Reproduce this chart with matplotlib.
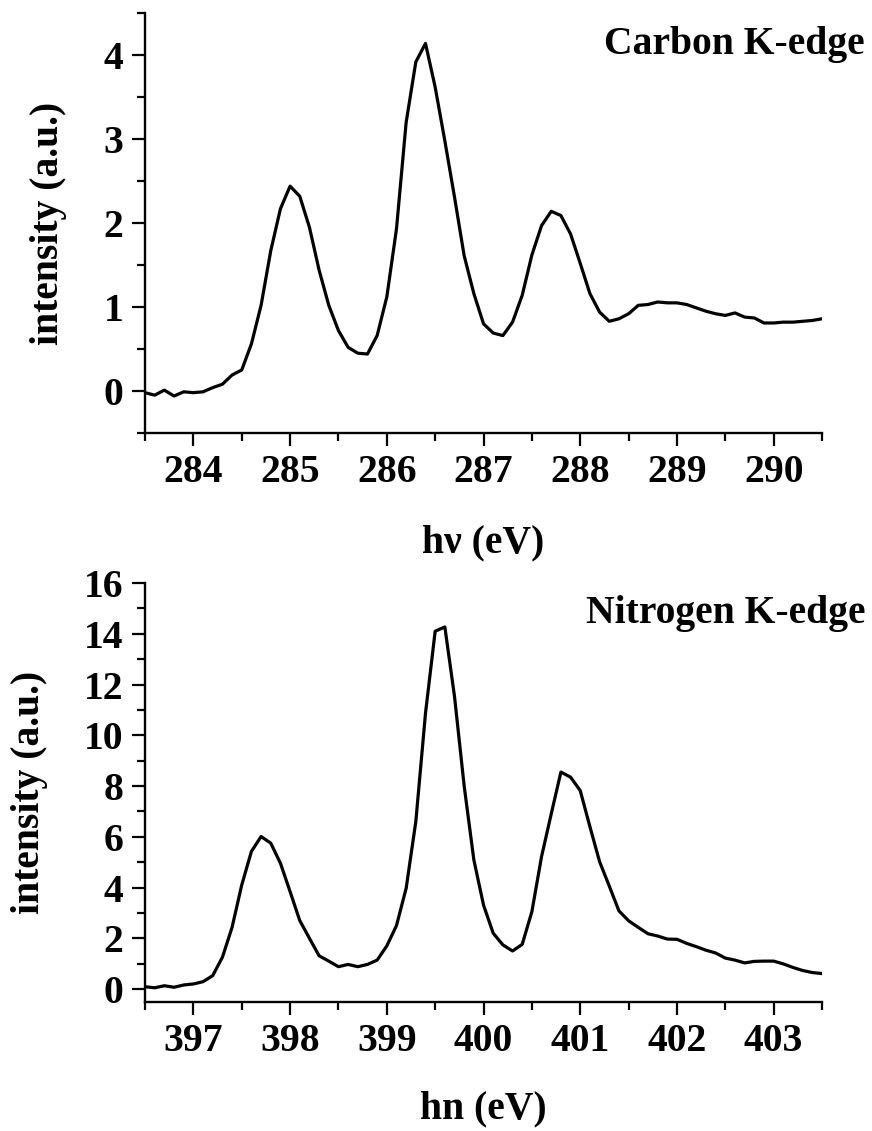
import matplotlib
matplotlib.use('Agg')
import matplotlib.pyplot as plt
from matplotlib.ticker import MultipleLocator

plt.rcParams['font.family'] = ['Liberation Serif', 'DejaVu Serif']
plt.rcParams['font.weight'] = 'bold'

# carbon K-edge spectrum
carbon_ev = [283.5, 283.6, 283.7, 283.8, 283.9, 284.0, 284.1, 284.2, 284.3, 284.4,
             284.5, 284.6, 284.7, 284.8, 284.9, 285.0, 285.1, 285.2, 285.3, 285.4,
             285.5, 285.6, 285.7, 285.8, 285.9, 286.0, 286.1, 286.2, 286.3, 286.4,
             286.5, 286.6, 286.7, 286.8, 286.9, 287.0, 287.1, 287.2, 287.3, 287.4,
             287.5, 287.6, 287.7, 287.8, 287.9, 288.0, 288.1, 288.2, 288.3, 288.4,
             288.5, 288.6, 288.7, 288.8, 288.9, 289.0, 289.1, 289.2, 289.3, 289.4,
             289.5, 289.6, 289.7, 289.8, 289.9, 290.0, 290.1, 290.2, 290.3, 290.4,
             290.5]
carbon_int = [-0.02, -0.05, 0.01, -0.06, -0.01, -0.02, -0.01, 0.04, 0.08, 0.19,
              0.25, 0.56, 1.02, 1.67, 2.17, 2.44, 2.32, 1.95, 1.44, 1.02,
              0.72, 0.52, 0.45, 0.44, 0.66, 1.12, 1.93, 3.20, 3.92, 4.14,
              3.62, 2.98, 2.31, 1.61, 1.16, 0.80, 0.69, 0.66, 0.82, 1.14,
              1.62, 1.97, 2.14, 2.09, 1.87, 1.52, 1.16, 0.94, 0.83, 0.86,
              0.92, 1.02, 1.03, 1.06, 1.05, 1.05, 1.03, 0.99, 0.95, 0.92,
              0.90, 0.93, 0.88, 0.87, 0.81, 0.81, 0.82, 0.82, 0.83, 0.84,
              0.86]

# nitrogen K-edge spectrum
nitrogen_ev = [396.5, 396.6, 396.7, 396.8, 396.9, 397.0, 397.1, 397.2, 397.3, 397.4,
               397.5, 397.6, 397.7, 397.8, 397.9, 398.0, 398.1, 398.2, 398.3, 398.4,
               398.5, 398.6, 398.7, 398.8, 398.9, 399.0, 399.1, 399.2, 399.3, 399.4,
               399.5, 399.6, 399.7, 399.8, 399.9, 400.0, 400.1, 400.2, 400.3, 400.4,
               400.5, 400.6, 400.7, 400.8, 400.9, 401.0, 401.1, 401.2, 401.3, 401.4,
               401.5, 401.6, 401.7, 401.8, 401.9, 402.0, 402.1, 402.2, 402.3, 402.4,
               402.5, 402.6, 402.7, 402.8, 402.9, 403.0, 403.1, 403.2, 403.3, 403.4,
               403.5]
nitrogen_int = [0.09, 0.05, 0.13, 0.07, 0.16, 0.20, 0.29, 0.53, 1.25, 2.43,
                4.10, 5.42, 6.01, 5.75, 4.96, 3.84, 2.70, 2.00, 1.31, 1.10,
                0.88, 0.97, 0.88, 0.97, 1.14, 1.70, 2.50, 3.97, 6.60, 10.87,
                14.10, 14.27, 11.53, 8.00, 5.09, 3.31, 2.20, 1.74, 1.50, 1.76,
                3.05, 5.22, 6.90, 8.55, 8.35, 7.82, 6.40, 5.02, 4.06, 3.08,
                2.69, 2.43, 2.18, 2.09, 1.97, 1.96, 1.80, 1.67, 1.53, 1.42,
                1.22, 1.14, 1.03, 1.09, 1.10, 1.10, 0.99, 0.85, 0.73, 0.65,
                0.61]

fs = 28.5

fig = plt.figure(figsize=(8.72, 11.31), dpi=100)
ax1 = fig.add_axes([0.1663, 0.6172, 0.7764, 0.3711])
ax2 = fig.add_axes([0.1663, 0.1143, 0.7764, 0.3702])


def style_axis(ax, xmin, xmax, ymin, ymax, ymajor, yminor):
    ax.set_xlim(xmin, xmax)
    ax.set_ylim(ymin, ymax)
    ax.spines['top'].set_visible(False)
    ax.spines['right'].set_visible(False)
    ax.spines['left'].set_linewidth(1.7)
    ax.spines['bottom'].set_linewidth(1.7)
    ax.xaxis.set_major_locator(MultipleLocator(1))
    ax.xaxis.set_minor_locator(MultipleLocator(0.5))
    ax.yaxis.set_major_locator(MultipleLocator(ymajor))
    ax.yaxis.set_minor_locator(MultipleLocator(yminor))
    ax.tick_params(which='major', direction='out', length=9.5, width=1.6,
                   labelsize=fs, pad=6)
    ax.tick_params(which='minor', direction='out', length=5.5, width=1.6)
    for lab in ax.get_xticklabels() + ax.get_yticklabels():
        lab.set_fontweight('bold')


ax1.plot(carbon_ev, carbon_int, color='black', linewidth=2.3)
style_axis(ax1, 283.5, 290.5, -0.5, 4.5, 1, 0.5)
ax1.set_xlabel('h\u03bd (eV)', fontsize=fs, fontweight='bold', labelpad=24)
ax1.set_ylabel('intensity (a.u.)', fontsize=fs, fontweight='bold', labelpad=26)
ax1.text(1.0635, 0.903, 'Carbon K-edge', transform=ax1.transAxes,
         ha='right', va='baseline', fontsize=fs, fontweight='bold')

ax2.plot(nitrogen_ev, nitrogen_int, color='black', linewidth=2.3)
style_axis(ax2, 396.5, 403.5, -0.5, 16, 2, 1)
ax2.set_xlabel('hn (eV)', fontsize=fs, fontweight='bold', labelpad=22)
ax2.set_ylabel('intensity (a.u.)', fontsize=fs, fontweight='bold', labelpad=26)
ax2.text(1.0635, 0.9045, 'Nitrogen K-edge', transform=ax2.transAxes,
         ha='right', va='baseline', fontsize=fs, fontweight='bold')

fig.savefig('out.png', dpi=100)
